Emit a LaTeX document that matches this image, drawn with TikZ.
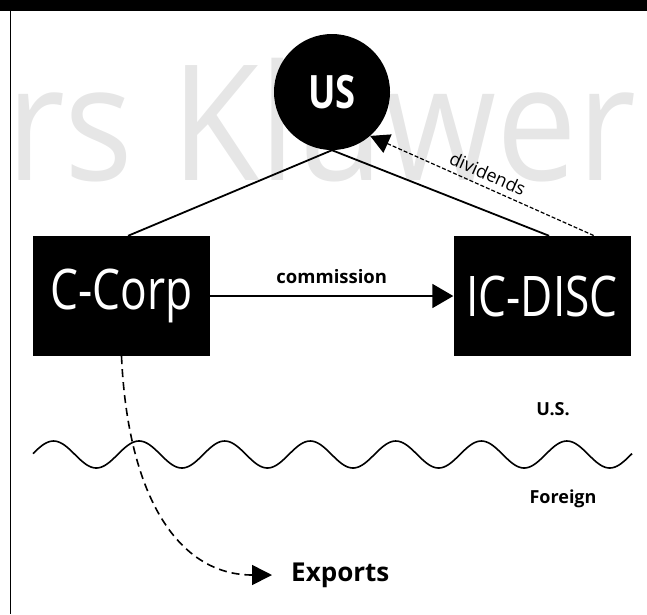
\documentclass[tikz,border=0pt]{standalone}
\usepackage{fontspec}
\setmainfont{Open Sans}
\newfontfamily\narrowfont[FakeStretch=0.79]{Open Sans}
\newfontfamily\markfont[FakeStretch=0.895]{Open Sans}
\usetikzlibrary{arrows.meta,calc}
\definecolor{markgray}{HTML}{E6E6E6}

\begin{document}
\begin{tikzpicture}[x=1pt,y=-1pt,
  entity/.style={fill=black, text=white, inner sep=0pt,
    minimum width=177pt, minimum height=120pt,
    font=\narrowfont\fontsize{56}{60}\selectfont},
  owner/.style={circle, fill=black, text=white, inner sep=0pt,
    minimum size=116pt, font=\narrowfont\bfseries\fontsize{46}{50}\selectfont},
  tie/.style={line width=1.8pt},
  flow/.style={line width=1.8pt, -{Triangle[length=21pt,width=24pt]}},
  payout/.style={line width=1.2pt, dash pattern=on 4pt off 2pt,
    {Triangle[length=19pt,width=20pt]}-},
  shipment/.style={line width=1.6pt, dash pattern=on 8pt off 5pt,
    -{Triangle[length=20pt,width=20pt]}},
  tag/.style={font=\bfseries\fontsize{18.5}{20}\selectfont, inner sep=3pt},
  zone/.style={font=\bfseries\fontsize{18}{20}\selectfont, inner sep=0pt}
]
\useasboundingbox (0,0) rectangle (647,614);

% frame: heading bar and left rule
\fill[black] (0,0) rectangle (647,10.5);
\draw[line width=1.4pt] (10.5,10) -- (10.5,614);

% background watermark
\node[anchor=base west, inner sep=0pt, text=markgray,
  font=\markfont\fontsize{161}{170}\selectfont] (mark) at (6,180) {rs Kluwer};

% entities
\node[owner] (us) at (332,92) {US};
\node[entity] (ccorp) at (121.5,296) {C-Corp};
\node[entity] (icdisc) at (542,296) {IC-DISC};
\node[anchor=west, inner sep=0pt, inner xsep=19pt,
  font=\bfseries\fontsize{26}{28}\selectfont] (exports) at (272,575) {Exports};

% ownership lines
\draw[tie] (us.south) -- ($(ccorp.north west)!0.537!(ccorp.north east)$);
\draw[tie] (us.south) -- ($(icdisc.north west)!0.54!(icdisc.north east)$);

% commission payment
\draw[flow] (ccorp.east) -- (icdisc.west)
  node[tag, midway, above=8pt] (commission) {commission};

% dividends back to the shareholder
\draw[payout] (us.-49) -- ($(icdisc.north west)!0.795!(icdisc.north east)$)
  node[midway, sloped, above=6pt, inner sep=0pt,
    font=\fontsize{18}{20}\selectfont] (dividends) {dividends};

% border between domestic and foreign
\draw[line width=1.6pt] plot[domain=33:632, samples=320, smooth]
  (\x, {454.5 - 13.5*cos((\x-53.5)/85.57*360)});
\node[zone] (domestic) at (553,409) {U.S.};
\node[zone] (foreign) at (563,499) {Foreign};

% exports leaving the country
\draw[shipment] (ccorp.south) .. controls (128,500) and (180,575) .. (exports.west);
\end{tikzpicture}
\end{document}
